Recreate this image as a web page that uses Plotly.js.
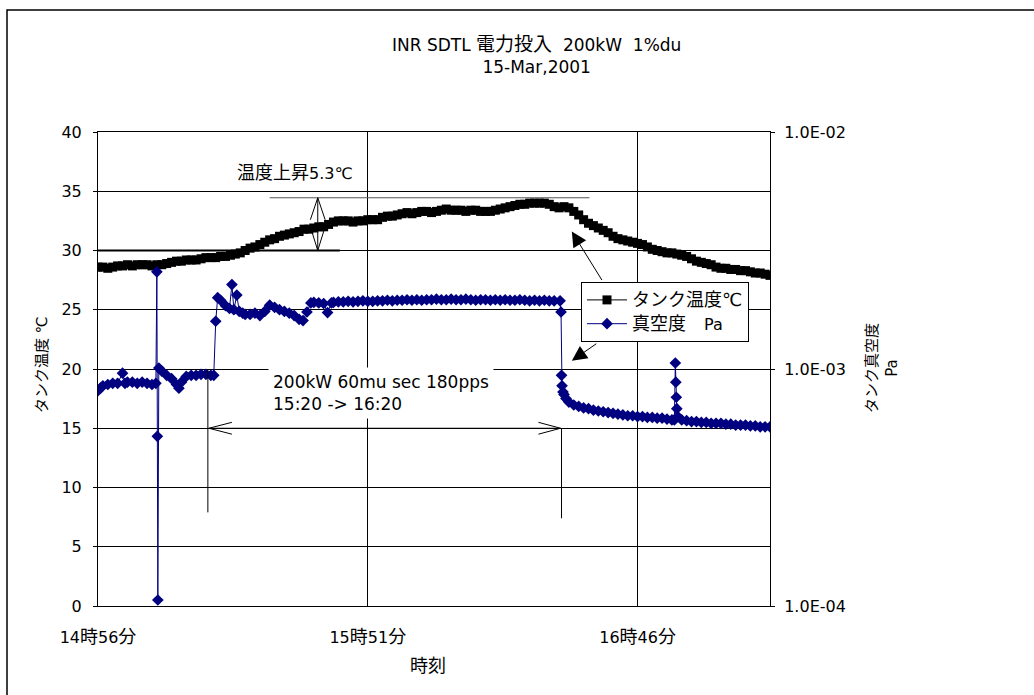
<!DOCTYPE html>
<html><head><meta charset="utf-8">
<script src="https://cdn.plot.ly/plotly-3.0.1.min.js"></script>
<style>body{margin:0;background:#fff}#c{width:1034px;height:695px}</style>
</head><body><div id="c"></div>
<script>
// minutes after 14:56
const tempTime = [0,1,2,3,4,5,6,7,8,9,10,11,12,13,14,15,16,17,18,19,20,21,22,23,24,25,26,27,28,29,30,31,32,33,34,35,36,37,38,39,40,41,42,43,44,45,46,47,48,49,50,51,52,53,54,55,56,57,58,59,60,61,62,63,64,65,66,67,68,69,70,71,72,73,74,75,76,77,78,79,80,81,82,83,84,85,86,87,88,89,90,91,92,93,94,95,96,97,98,99,100,101,102,103,104,105,106,107,108,109,110,111,112,113,114,115,116,117,118,119,120,121,122,123,124,125,126,127,128,129,130,131,132,133,134,135,136,137];
const tempC = [28.6,28.6,28.5,28.6,28.7,28.7,28.8,28.7,28.8,28.8,28.8,28.7,28.8,28.8,28.9,29.0,29.1,29.1,29.2,29.2,29.2,29.3,29.4,29.4,29.4,29.5,29.5,29.6,29.7,29.8,30.0,30.2,30.3,30.5,30.7,30.9,31.0,31.2,31.3,31.4,31.5,31.6,31.8,31.8,31.9,32.0,32.0,32.2,32.4,32.5,32.5,32.5,32.4,32.5,32.5,32.6,32.6,32.6,32.8,32.9,32.9,33.0,33.1,33.2,33.1,33.2,33.3,33.3,33.2,33.3,33.4,33.5,33.4,33.4,33.4,33.3,33.4,33.4,33.3,33.3,33.3,33.4,33.5,33.6,33.7,33.8,33.9,33.9,34.0,34.0,34.0,34.0,33.9,33.7,33.6,33.7,33.6,33.3,33.0,32.6,32.3,32.1,31.9,31.7,31.5,31.2,31.0,30.9,30.8,30.7,30.6,30.5,30.3,30.1,30.0,29.9,29.8,29.8,29.7,29.6,29.5,29.3,29.1,29.0,28.9,28.8,28.6,28.5,28.5,28.4,28.4,28.3,28.3,28.2,28.1,28.1,28.0,27.9];

const vacTime = [0,0.5,1,2,3,4,5,5.5,6,7,8,9,10,11,11.8,12.0,12.1,12.2,12.4,13,14,15,16,16.5,17,18,19,20,21,22,23,23.6,24.0,24.4,25,26,26.8,27.3,27.7,28.3,28.8,29.5,30,31,32,33,34,35,36,37,38,39,40,41,41.8,42.6,43.4,44,45,46,46.8,47.6,48,49,50,51,52,53,54,55,56,57,58,59,60,61,62,63,64,65,66,67,68,69,70,71,72,73,74,75,76,77,78,79,80,81,82,83,84,85,86,87,88,89,90,91,92,93,94.2,94.4,94.5,94.6,94.8,95.0,95.4,96,97,98,99,100,101,102,103,104,105,106,107,108,109,110,111,112,113,114,115,116,117,117.5,117.7,117.8,117.9,118.0,118.2,119,120,121,122,123,124,125,126,127,128,129,130,131,132,133,134,135,136,137];
const vacPa = [8.1e-4,8.3e-4,8.5e-4,8.6e-4,8.7e-4,8.7e-4,9.6e-4,8.7e-4,8.8e-4,8.8e-4,8.7e-4,8.8e-4,8.7e-4,8.6e-4,8.7e-4,2.57e-3,5.2e-4,1.06e-4,1.01e-3,9.8e-4,9.4e-4,9.1e-4,8.6e-4,8.3e-4,8.8e-4,9.3e-4,9.4e-4,9.4e-4,9.5e-4,9.5e-4,9.4e-4,9.4e-4,1.59e-3,2.0e-3,1.95e-3,1.85e-3,1.8e-3,2.27e-3,1.78e-3,2.05e-3,1.75e-3,1.72e-3,1.70e-3,1.70e-3,1.72e-3,1.68e-3,1.75e-3,1.86e-3,1.82e-3,1.78e-3,1.75e-3,1.72e-3,1.68e-3,1.62e-3,1.60e-3,1.74e-3,1.90e-3,1.91e-3,1.90e-3,1.89e-3,1.73e-3,1.90e-3,1.91e-3,1.92e-3,1.92e-3,1.93e-3,1.92e-3,1.93e-3,1.94e-3,1.93e-3,1.93e-3,1.94e-3,1.94e-3,1.95e-3,1.94e-3,1.95e-3,1.95e-3,1.96e-3,1.95e-3,1.96e-3,1.95e-3,1.96e-3,1.96e-3,1.97e-3,1.96e-3,1.96e-3,1.97e-3,1.96e-3,1.96e-3,1.97e-3,1.96e-3,1.95e-3,1.96e-3,1.96e-3,1.95e-3,1.96e-3,1.95e-3,1.96e-3,1.95e-3,1.95e-3,1.96e-3,1.95e-3,1.94e-3,1.95e-3,1.94e-3,1.95e-3,1.94e-3,1.94e-3,1.94e-3,1.74e-3,9.4e-4,8.5e-4,8.0e-4,7.8e-4,7.5e-4,7.25e-4,7.05e-4,6.95e-4,6.85e-4,6.8e-4,6.7e-4,6.65e-4,6.6e-4,6.55e-4,6.5e-4,6.45e-4,6.4e-4,6.35e-4,6.35e-4,6.3e-4,6.3e-4,6.25e-4,6.25e-4,6.2e-4,6.2e-4,6.15e-4,6.1e-4,6.1e-4,1.06e-3,8.8e-4,7.6e-4,6.8e-4,6.3e-4,6.1e-4,6.05e-4,6.0e-4,6.0e-4,5.95e-4,5.95e-4,5.9e-4,5.9e-4,5.9e-4,5.85e-4,5.85e-4,5.8e-4,5.8e-4,5.8e-4,5.75e-4,5.75e-4,5.7e-4,5.7e-4,5.7e-4];

const xTickVals = [0,55,110];
const xTickText = ['14時56分','15時51分','16時46分'];
const yTickVals = [0,5,10,15,20,25,30,35,40];
const y2TickVals = [1e-4,1e-3,1e-2];
const y2TickText = ['1.0E-04','1.0E-03','1.0E-02'];

const F = 'DejaVu Sans, Noto Sans CJK JP, sans-serif';
const FS = 16;
// enlarge CJK glyphs to match the reference's Japanese font metrics
function cj(s, px){ return s.replace(/([\u3000-\u30ff\u4e00-\u9fff\u2103]+)/g, '<span style="font-size:'+(px||18)+'px">$1</span>'); }

const traces = [
  {x: tempTime, y: tempC, name: cj('タンク温度℃'), type:'scatter', mode:'lines+markers',
   line:{color:'#000', width:1}, marker:{symbol:'square', size:9, color:'#000'}},
  {x: vacTime, y: vacPa, name: cj('真空度\u3000Pa'), yaxis:'y2', type:'scatter', mode:'lines+markers',
   line:{color:'#000080', width:1}, marker:{symbol:'diamond', size:9, color:'#000080'}}
];

function L(x0,y0,x1,y1,c,w){return {type:'line',xref:'x',yref:'y',x0:x0,y0:y0,x1:x1,y1:y1,line:{color:c||'#000',width:w||1}};}
const shapes = [
  {type:'rect',xref:'paper',yref:'paper',x0:-0.1354,x1:1.45,y0:-0.25,y1:1.2574,line:{color:'#000',width:1.5}},
  L(0,30,49.3,30,'#000',2),
  L(35.0,34.45,100.2,34.45,'#555',1),
  L(44.8,30.0,44.8,34.45,'#000',1),
  L(44.8,34.45,43.3,32.6,'#000',1), L(44.8,34.45,46.3,32.6,'#000',1),
  L(44.8,30.0,43.3,32.0,'#000',1), L(44.8,30.0,46.3,32.0,'#000',1),
  L(22.4,20,22.4,7.9,'#000',1),
  L(94.5,15,94.5,7.4,'#000',1),
  L(22.6,15,94.3,15,'#000',1),
  L(22.6,15,27.3,15.5,'#000',1), L(22.6,15,27.3,14.5,'#000',1),
  L(94.3,15,89.8,15.5,'#000',1), L(94.3,15,89.8,14.5,'#000',1)
];

const annotations = [
  {xref:'paper',yref:'paper',x:0.653,y:1.162,xanchor:'center',yanchor:'middle',showarrow:false,
   text:cj('INR SDTL 電力投入',19)+'\u00a0\u00a0200kW\u00a0\u00a01%du<br>15-Mar,2001',font:{family:F,size:17,color:'#000'}},
  {xref:'x',yref:'y',x:40.1,y:36.6,showarrow:false,text:cj('温度上昇')+'5.3℃',font:{family:F,size:FS,color:'#000'}},
  {xref:'x',yref:'y',x:34.6,y:20.2,xanchor:'left',yanchor:'top',align:'left',showarrow:false,bgcolor:'#fff',borderpad:4,
   text:'200kW 60mu sec 180pps<br>15:20 -> 16:20',font:{family:F,size:17,color:'#000'}},
  {xref:'x',yref:'y',x:96.6,y:31.6,ax:31,ay:50,showarrow:true,arrowhead:2,arrowsize:3,arrowwidth:1,arrowcolor:'#000',text:''},
  {xref:'x',yref:'y',x:96.6,y:20.7,ax:26,ay:-18,showarrow:true,arrowhead:2,arrowsize:3,arrowwidth:1,arrowcolor:'#000',text:''},
  {xref:'paper',yref:'paper',x:(42-98)/672,y:(606-365)/474,xanchor:'center',yanchor:'middle',textangle:-90,showarrow:false,
   text:'タンク温度 ℃',font:{family:F,size:15,color:'#000'}},
  {xref:'paper',yref:'paper',x:(882-98)/672,y:(606-368)/474,xanchor:'center',yanchor:'middle',textangle:-90,showarrow:false,
   text:'タンク真空度<br>Pa',font:{family:F,size:15,color:'#000'}},
  {xref:'paper',yref:'paper',x:(428-98)/672,y:(606-665)/474,xanchor:'center',yanchor:'middle',showarrow:false,
   text:'時刻',font:{family:F,size:18,color:'#000'}}
];

const layout = {
  width:1034, height:695, paper_bgcolor:'#fff', plot_bgcolor:'#fff',
  margin:{l:98,r:264,t:132,b:89},
  font:{family:F,size:FS,color:'#000'},
  showlegend:true,
  legend:{x:(581-98)/672,y:(606-282)/474,xanchor:'left',yanchor:'top',bgcolor:'#fff',bordercolor:'#000',borderwidth:1,
    font:{family:F,size:FS,color:'#000'},itemwidth:40},
  xaxis:{range:[0,137],tickvals:xTickVals,ticktext:xTickText.map(s=>cj(s)),showgrid:true,gridcolor:'#000',gridwidth:1,
    showline:true,linecolor:'#000',linewidth:1,mirror:true,ticks:'',ticklabelstandoff:17,zeroline:false,
    tickfont:{family:F,size:FS,color:'#000'}},
  yaxis:{range:[0,40],tickvals:yTickVals,showgrid:true,gridcolor:'#000',gridwidth:1,showline:true,linecolor:'#000',
    linewidth:1,ticks:'outside',ticklen:4,tickcolor:'#000',ticklabelstandoff:8,zeroline:false,
    tickfont:{family:F,size:FS,color:'#000'}},
  yaxis2:{type:'log',range:[-4,-2],overlaying:'y',side:'right',tickvals:y2TickVals,ticktext:y2TickText,showgrid:false,
    showline:true,linecolor:'#000',linewidth:1,ticks:'outside',ticklen:4,tickcolor:'#000',ticklabelstandoff:6,zeroline:false,
    tickfont:{family:F,size:FS,color:'#000'}},
  shapes:shapes, annotations:annotations
};
Plotly.newPlot('c', traces, layout, {displayModeBar:false, staticPlot:true});
</script></body></html>
